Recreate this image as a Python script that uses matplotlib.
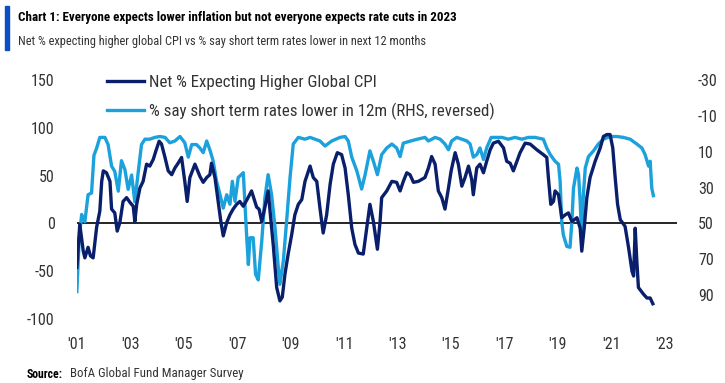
import matplotlib
matplotlib.use("Agg")
import matplotlib.pyplot as plt
from matplotlib.patches import Rectangle

# Net % expecting higher global CPI (LHS), decimal years
cpi_dates = [2001.00, 2001.11, 2001.24, 2001.30, 2001.42, 2001.51, 2001.61, 2001.74, 2001.86, 2001.93,
             2001.99, 2002.11, 2002.24, 2002.30, 2002.42, 2002.51, 2002.61, 2002.73, 2002.86, 2002.99,
             2003.11, 2003.17, 2003.24, 2003.36, 2003.48, 2003.61, 2003.73, 2003.86, 2003.96, 2004.08,
             2004.17, 2004.30, 2004.42, 2004.55, 2004.67, 2004.79, 2004.92, 2005.04, 2005.13, 2005.23,
             2005.42, 2005.61, 2005.73, 2005.86, 2005.98, 2006.04, 2006.17, 2006.29, 2006.39, 2006.48,
             2006.61, 2006.73, 2006.85, 2006.98, 2007.10, 2007.23, 2007.37, 2007.54, 2007.73, 2007.82,
             2007.92, 2008.04, 2008.16, 2008.35, 2008.48, 2008.60, 2008.69, 2008.79, 2008.91, 2009.04,
             2009.16, 2009.29, 2009.42, 2009.54, 2009.73, 2009.85, 2009.98, 2010.10, 2010.22, 2010.35,
             2010.48, 2010.60, 2010.75, 2010.91, 2011.04, 2011.16, 2011.29, 2011.41, 2011.54, 2011.72,
             2011.85, 2011.97, 2012.10, 2012.25, 2012.35, 2012.41, 2012.60, 2012.79, 2012.97, 2013.10,
             2013.22, 2013.35, 2013.47, 2013.60, 2013.78, 2014.03, 2014.16, 2014.28, 2014.41, 2014.53,
             2014.66, 2014.78, 2014.91, 2015.01, 2015.16, 2015.28, 2015.41, 2015.53, 2015.66, 2015.78,
             2015.84, 2015.97, 2016.09, 2016.22, 2016.34, 2016.47, 2016.59, 2016.78, 2016.97, 2017.09,
             2017.22, 2017.34, 2017.47, 2017.59, 2017.78, 2017.97, 2018.22, 2018.46, 2018.59, 2018.65,
             2018.74, 2018.84, 2018.90, 2019.03, 2019.15, 2019.28, 2019.40, 2019.53, 2019.72, 2019.84,
             2019.90, 2019.99, 2020.09, 2020.21, 2020.40, 2020.59, 2020.71, 2020.84, 2020.96, 2021.06,
             2021.15, 2021.24, 2021.34, 2021.52, 2021.65, 2021.78, 2021.84, 2021.90, 2021.96, 2022.02,
             2022.21, 2022.34, 2022.46, 2022.56]
net_cpi = [-46, -1, -29, -36, -25, -34, -36, -4, 13, 44,
           55, 53, 44, 15, 11, -8, 1, 23, 27, 22,
           18, 2, 20, 37, 44, 62, 60, 67, 76, 86,
           83, 69, 55, 51, 58, 63, 69, 44, 23, 48,
           62, 49, 43, 48, 51, 63, 48, 23, 2, -13,
           1, 9, 15, 20, 23, 18, 25, 34, 17, 15,
           2, 17, 34, -22, -67, -81, -77, -53, -32, -12,
           9, 20, 25, 44, 60, 48, 44, 16, -10, 9,
           41, 62, 74, 72, 58, 30, -5, -22, -31, -32,
           -5, 20, 2, -27, 2, 27, 34, 44, 43, 34,
           44, 53, 51, 43, 44, 48, 58, 70, 62, 34,
           27, 15, 37, 55, 74, 62, 39, 48, 60, 46,
           30, 58, 62, 53, 65, 77, 84, 86, 79, 65,
           63, 55, 65, 74, 84, 83, 77, 72, 69, 48,
           20, 23, 34, 30, 6, 9, 11, 2, 6, -5,
           -29, -5, 27, 48, 65, 79, 91, 93, 93, 79,
           48, 20, 4, -3, -25, -50, -55, -5, -39, -67,
           -74, -78, -78, -84]

# % say short term rates lower in 12m (RHS, reversed)
rate_dates = [2001.00, 2001.09, 2001.18, 2001.30, 2001.42, 2001.55, 2001.64, 2001.74, 2001.86, 2002.05,
              2002.17, 2002.30, 2002.42, 2002.55, 2002.67, 2002.80, 2002.92, 2003.05, 2003.17, 2003.30,
              2003.42, 2003.55, 2003.73, 2003.92, 2004.11, 2004.30, 2004.48, 2004.67, 2004.86, 2005.04,
              2005.17, 2005.30, 2005.48, 2005.61, 2005.73, 2005.86, 2005.98, 2006.10, 2006.23, 2006.36,
              2006.48, 2006.61, 2006.73, 2006.82, 2006.92, 2007.04, 2007.23, 2007.36, 2007.42, 2007.48,
              2007.60, 2007.69, 2007.79, 2007.92, 2008.04, 2008.16, 2008.29, 2008.42, 2008.54, 2008.60,
              2008.73, 2008.85, 2008.98, 2009.10, 2009.29, 2009.54, 2009.73, 2010.10, 2010.29, 2010.54,
              2010.85, 2011.04, 2011.16, 2011.29, 2011.48, 2011.66, 2011.79, 2011.97, 2012.10, 2012.25,
              2012.41, 2012.60, 2012.79, 2012.97, 2013.10, 2013.22, 2013.47, 2013.72, 2014.03, 2014.16,
              2014.41, 2014.60, 2014.78, 2014.91, 2015.03, 2015.22, 2015.41, 2015.60, 2015.72, 2015.84,
              2015.97, 2016.09, 2016.22, 2016.34, 2016.51, 2016.66, 2016.91, 2017.15, 2017.40, 2017.66,
              2017.90, 2018.15, 2018.46, 2018.59, 2018.72, 2018.90, 2019.03, 2019.09, 2019.15, 2019.21,
              2019.34, 2019.46, 2019.53, 2019.59, 2019.72, 2019.78, 2019.84, 2019.90, 2019.96, 2020.03,
              2020.15, 2020.34, 2020.52, 2020.71, 2020.96, 2021.21, 2021.46, 2021.71, 2021.96, 2022.15,
              2022.27, 2022.40, 2022.46, 2022.52, 2022.58]
rates_lower = [88, 58, 45, 49, 34, 33, 12, 8, 2, 2,
               6, 18, 21, 32, 15, 20, 31, 23, 38, 21,
               6, 3, 3, 2, 1.5, 2, 5, 4, 1.5, 5,
               13, 6, 6, 8, 10.5, 4, 9, 15, 26.5, 34,
               41.5, 34, 39.3, 26.5, 37.7, 24.4, 21.7, 58, 72.9, 58,
               58, 78.3, 81.5, 60, 35.6, 22.8, 34, 52.7, 74.5, 84,
               70.8, 49, 24.4, 5.7, 2, 3, 2, 4, 6.8, 4,
               2, 1.5, 4, 13, 20.7, 30.8, 22.8, 9.5, 15.3, 22.8,
               11.6, 7.9, 5.7, 7.9, 12.7, 5.2, 4.1, 3.1, 2, 4,
               2, 3, 5.7, 8.9, 4, 2, 3, 4, 5.7, 13,
               11.6, 7.9, 14.3, 7.9, 2, 2, 2, 3, 2, 3,
               2, 2, 3, 7.9, 11.6, 15.3, 17, 26.5, 49, 56.4,
               62.8, 63.3, 49, 30.3, 19.1, 22.8, 37.7, 60, 34, 19.1,
               12.7, 9.5, 5.7, 3, 1.5, 1.5, 2, 3, 5.7, 7.9,
               11.6, 18, 15.3, 30.3, 34.5]

left_ticks = [-100, -50, 0, 50, 100, 150]
right_ticks = [-30, -10, 10, 30, 50, 70, 90]
year_ticks = list(range(2001, 2024, 2))
year_labels = ["'%02d" % (y % 100) for y in year_ticks]

navy = "#0a1f6b"
light = "#1ba1dc"
txt = "#333333"

plt.rcParams["font.family"] = ["Roboto Condensed", "DejaVu Sans"]
plt.rcParams["axes.unicode_minus"] = False

fig = plt.figure(figsize=(7.25, 3.83), dpi=100)
ax = fig.add_axes([0.106, 0.167, 0.828, 0.624])
ax2 = ax.twinx()

# left 0 lines up with right 50, left 150 with right -30
ax.set_ylim(-100, 150)
ax2.set_ylim(50 + 100 * 80 / 150, -30)
ax.set_xlim(2001, 2023.47)

ax2.axhline(50, color="black", lw=1.2, zorder=1)
l2, = ax2.plot(rate_dates, rates_lower, color=light, lw=2.4, solid_joinstyle="round",
               label="% say short term rates lower in 12m (RHS, reversed)", zorder=2)
l1, = ax.plot(cpi_dates, net_cpi, color=navy, lw=2.4, solid_joinstyle="round",
              label="Net % Expecting Higher Global CPI", zorder=3)
ax.set_zorder(ax2.get_zorder() + 1)
ax.patch.set_visible(False)

ax.set_yticks(left_ticks)
ax2.set_yticks(right_ticks)
ax.set_xticks(year_ticks)
ax.set_xticklabels(year_labels)
for a in (ax, ax2):
    for s in a.spines.values():
        s.set_visible(False)
    a.tick_params(length=0, labelsize=11.5, colors=txt)
ax.tick_params(axis="y", pad=16)
ax2.tick_params(axis="y", pad=15)
ax.tick_params(axis="x", pad=13)

ax.legend(handles=[l1, l2], loc="upper left", bbox_to_anchor=(0.024, 1.085), frameon=False,
          fontsize=12.2, handlelength=2.2, handletextpad=0.3, labelspacing=0.75, labelcolor=txt)

fig.patches.append(Rectangle((5 / 725, 1 - 50 / 383), 4 / 725, 44 / 383, transform=fig.transFigure,
                             color="#0a4fc4"))
title = fig.text(18 / 725, 1 - 17 / 383,
                 "Chart 1: Everyone expects lower inflation but not everyone expects rate cuts in 2023",
                 fontsize=12, fontweight="bold", va="center", ha="left", color="black")
sub = fig.text(18 / 725, 1 - 41 / 383,
               "Net % expecting higher global CPI vs % say short term rates lower in next 12 months",
               fontsize=11, va="center", ha="left", color=txt)
src = fig.text(27 / 725, 1 - 374 / 383, "Source:", fontsize=8.5, fontweight="bold", va="center", color="black")
src2 = fig.text(70 / 725, 1 - 374 / 383, "BofA Global Fund Manager Survey", fontsize=8.5, va="center", color=txt)

# squeeze texts to about the widths they take in the reference
r = fig.canvas.get_renderer()
for t, w in ((title, 438), (sub, 410), (src, 36), (src2, 172)):
    t.set_fontsize(t.get_fontsize() * w / t.get_window_extent(r).width)

fig.savefig("out.png", dpi=100)
